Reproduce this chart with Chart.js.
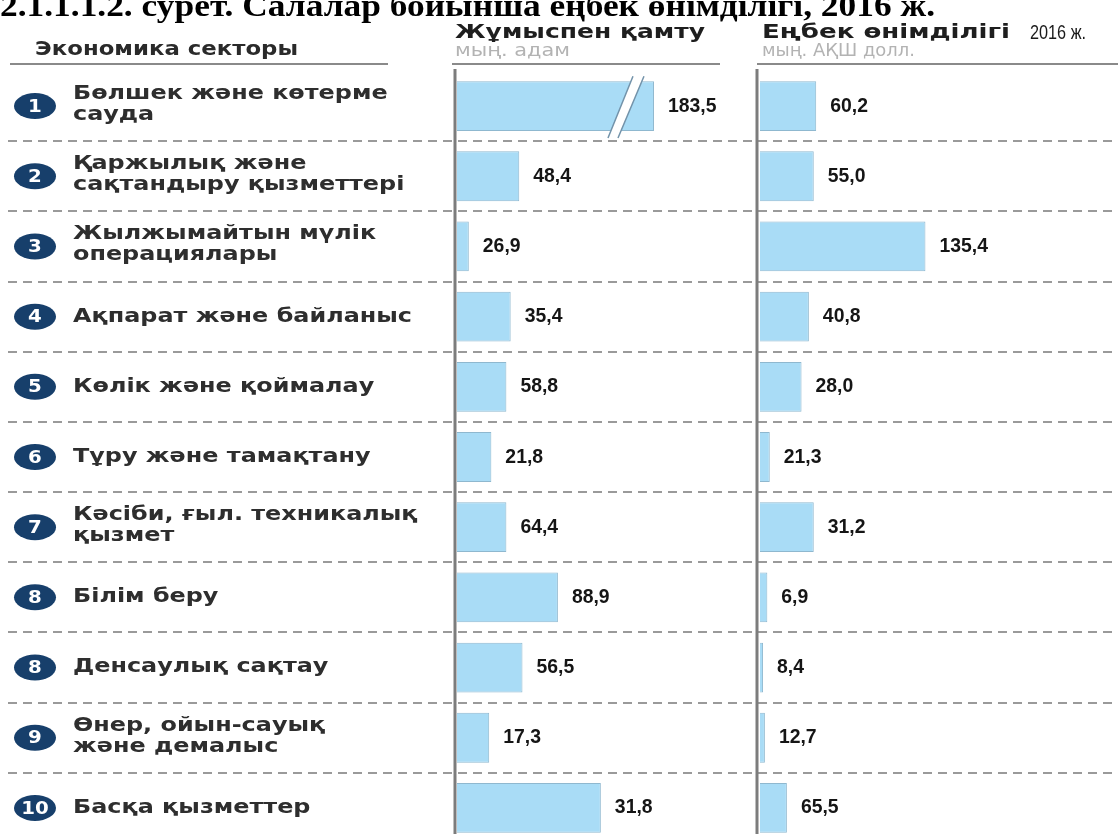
<!DOCTYPE html>
<html lang="kk">
<head>
<meta charset="UTF-8">
<title>Еңбек өнімділігі</title>
<script src="https://cdn.jsdelivr.net/npm/chart.js"></script>
<style>
  body { margin: 0; background: #fff; overflow: hidden; }
  #wrap { position: relative; width: 1118px; height: 834px; overflow: hidden; }
  canvas { position: absolute; top: 0; }
  #chartA { left: 0; }
  #chartB { left: 740px; }
</style>
</head>
<body>
<div id="wrap">
  <canvas id="chartA" width="1118" height="845"></canvas>
  <canvas id="chartB" width="378" height="845"></canvas>
</div>

<script>
// --- data ---
const sectors = [
  ['Бөлшек және көтерме', 'сауда'],
  ['Қаржылық және', 'сақтандыру қызметтері'],
  ['Жылжымайтын мүлік', 'операциялары'],
  ['Ақпарат және байланыс'],
  ['Көлік және қоймалау'],
  ['Тұру және тамақтану'],
  ['Кәсіби, ғыл. техникалық', 'қызмет'],
  ['Білім беру'],
  ['Денсаулық сақтау'],
  ['Өнер, ойын-сауық', 'және демалыс'],
  ['Басқа қызметтер']
];
const badges = ['1', '2', '3', '4', '5', '6', '7', '8', '8', '9', '10'];

// printed values
const employment = [183.5, 48.4, 26.9, 35.4, 58.8, 21.8, 64.4, 88.9, 56.5, 17.3, 31.8];
const productivity = [60.2, 55.0, 135.4, 40.8, 28.0, 21.3, 31.2, 6.9, 8.4, 12.7, 65.5];

// bar lengths as drawn in the source (its bars are not to scale with the printed numbers)
const employmentBars = [183.5, 58, 11, 50, 46, 32, 46, 94, 61, 30, 134];
const productivityBars = [46, 44, 135.4, 40, 34, 8, 44, 6, 2.5, 4, 22];

const employmentMax = 245;
const productivityMax = 293;

const title = '2.1.1.1.2. сурет. Салалар бойынша еңбек өнімділігі, 2016 ж.';

// --- helpers ---
function stretchText(ctx, text, x, y, font, color, sx, align) {
  ctx.save();
  ctx.font = font;
  ctx.fillStyle = color;
  ctx.textBaseline = 'middle';
  ctx.textAlign = align || 'left';
  ctx.translate(x, y);
  ctx.scale(sx, 1);
  ctx.fillText(text, 0, 0);
  ctx.restore();
}

function fitText(ctx, text, x, y, font, color, width) {
  ctx.save();
  ctx.font = font;
  const w = ctx.measureText(text).width;
  ctx.restore();
  stretchText(ctx, text, x, y, font, color, width / w);
}

function fmt(v) {
  return v.toFixed(1).replace('.', ',');
}

const labelFont = 'bold 19px "DejaVu Sans"';
const headFont = 'bold 19px "DejaVu Sans"';
const unitFont = '17px "DejaVu Sans"';
const valueFont = 'bold 20px "Liberation Sans"';
const blue = '#a9dcf6';
const blueEdge = '#8fb8cf';
const textColor = '#2e2e2e';

function rowCenters(chart) {
  const y = chart.scales.y;
  return sectors.map((s, i) => y.getPixelForValue(i));
}

// left side, headers, dashed separators
const framePlugin = {
  id: 'frame',
  beforeDatasetsDraw(chart) {
    const ctx = chart.ctx;
    const c = rowCenters(chart);

    // title (cut at top edge)
    ctx.save();
    ctx.font = 'bold 32px "Liberation Serif"';
    const tw = ctx.measureText(title).width;
    ctx.translate(0, 16);
    ctx.scale(935 / tw, 1);
    ctx.fillStyle = '#000';
    ctx.textBaseline = 'alphabetic';
    ctx.fillText(title, 0, 0);
    ctx.restore();

    // headers
    fitText(ctx, 'Экономика секторы', 35, 50, headFont, '#2a2a2a', 263);
    fitText(ctx, 'Жұмыспен қамту', 455, 33, headFont, '#1e1e1e', 250);
    fitText(ctx, 'мың. адам', 455, 52, unitFont, '#b3b3b3', 115);
    fitText(ctx, 'Еңбек өнімділігі', 762, 33, headFont, '#1e1e1e', 248);
    fitText(ctx, '2016 ж.', 1030, 33, '21px "Liberation Sans"', '#1a1a1a', 56);
    fitText(ctx, 'мың. АҚШ долл.', 762, 52, unitFont, '#b3b3b3', 153);

    ctx.save();
    ctx.strokeStyle = '#8a8a8a';
    ctx.lineWidth = 2;
    [[10, 388], [452, 720], [757, 1118]].forEach(([a, b]) => {
      ctx.beginPath();
      ctx.moveTo(a, 64);
      ctx.lineTo(b, 64);
      ctx.stroke();
    });

    // dashed separators between rows
    ctx.setLineDash([9, 6]);
    ctx.strokeStyle = '#9a9a9a';
    ctx.lineWidth = 2;
    for (let i = 0; i < c.length - 1; i++) {
      const yy = Math.round((c[i] + c[i + 1]) / 2);
      ctx.beginPath();
      ctx.moveTo(8, yy);
      ctx.lineTo(1118, yy);
      ctx.stroke();
    }
    ctx.restore();

    // row labels with badges
    ctx.save();
    ctx.font = labelFont;
    const sx = 339 / ctx.measureText('Ақпарат және байланыс').width;
    ctx.restore();
    sectors.forEach((lines, i) => {
      ctx.save();
      ctx.fillStyle = '#173f6b';
      ctx.beginPath();
      ctx.ellipse(35, c[i], 21, 13, 0, 0, Math.PI * 2);
      ctx.fill();
      ctx.restore();
      stretchText(ctx, badges[i], 35, c[i] + 1, 'bold 18px "DejaVu Sans"', '#fff', 1.1, 'center');
      if (lines.length === 1) {
        stretchText(ctx, lines[0], 73, c[i], labelFont, textColor, sx);
      } else {
        stretchText(ctx, lines[0], 73, c[i] - 12, labelFont, textColor, sx);
        stretchText(ctx, lines[1], 73, c[i] + 9, labelFont, textColor, sx);
      }
    });
  }
};

function axisPlugin(x) {
  return {
    id: 'axisLine',
    afterDatasetsDraw(chart) {
      const ctx = chart.ctx;
      ctx.save();
      ctx.strokeStyle = '#7c7c7c';
      ctx.lineWidth = 3;
      ctx.beginPath();
      ctx.moveTo(x, 69);
      ctx.lineTo(x, chart.height);
      ctx.stroke();
      ctx.restore();
    }
  };
}

function valuePlugin(values) {
  return {
    id: 'values',
    afterDatasetsDraw(chart) {
      const ctx = chart.ctx;
      chart.getDatasetMeta(0).data.forEach((bar, i) => {
        stretchText(ctx, fmt(values[i]), bar.x + 14, bar.y, valueFont, '#151515', 0.97);
      });
    }
  };
}

// break mark on the first (cut) employment bar
const breakPlugin = {
  id: 'breakMark',
  afterDatasetsDraw(chart) {
    const ctx = chart.ctx;
    const bar = chart.getDatasetMeta(0).data[0];
    const end = bar.x;
    const top = bar.y - bar.height / 2 - 5;
    const bot = bar.y + bar.height / 2 + 7;
    ctx.save();
    ctx.beginPath();
    ctx.moveTo(end - 46, bot);
    ctx.lineTo(end - 21, top);
    ctx.lineTo(end - 10, top);
    ctx.lineTo(end - 36, bot);
    ctx.closePath();
    ctx.fillStyle = '#fff';
    ctx.fill();
    ctx.strokeStyle = '#7393aa';
    ctx.lineWidth = 1.5;
    ctx.beginPath();
    ctx.moveTo(end - 46, bot);
    ctx.lineTo(end - 21, top);
    ctx.moveTo(end - 36, bot);
    ctx.lineTo(end - 10, top);
    ctx.stroke();
    ctx.restore();
  }
};

function barConfig(values, max, padding, plugins) {
  return {
    type: 'bar',
    data: {
      labels: sectors.map(s => s.join(' ')),
      datasets: [{
        data: values,
        backgroundColor: blue,
        borderColor: blueEdge,
        borderWidth: 1,
        barPercentage: 0.71,
        categoryPercentage: 1.0
      }]
    },
    options: {
      indexAxis: 'y',
      responsive: false,
      animation: false,
      events: [],
      layout: { padding: padding },
      plugins: { legend: { display: false }, tooltip: { enabled: false } },
      scales: {
        x: { display: false, min: 0, max: max },
        y: { display: false }
      }
    },
    plugins: plugins
  };
}

new Chart(document.getElementById('chartA'),
  barConfig(employmentBars, employmentMax,
    { left: 457, right: 398, top: 71, bottom: 2 },
    [framePlugin, axisPlugin(455), valuePlugin(employment), breakPlugin]));

new Chart(document.getElementById('chartB'),
  barConfig(productivityBars, productivityMax,
    { left: 20, right: 0, top: 71, bottom: 2 },
    [axisPlugin(17), valuePlugin(productivity)]));
</script>
</body>
</html>
